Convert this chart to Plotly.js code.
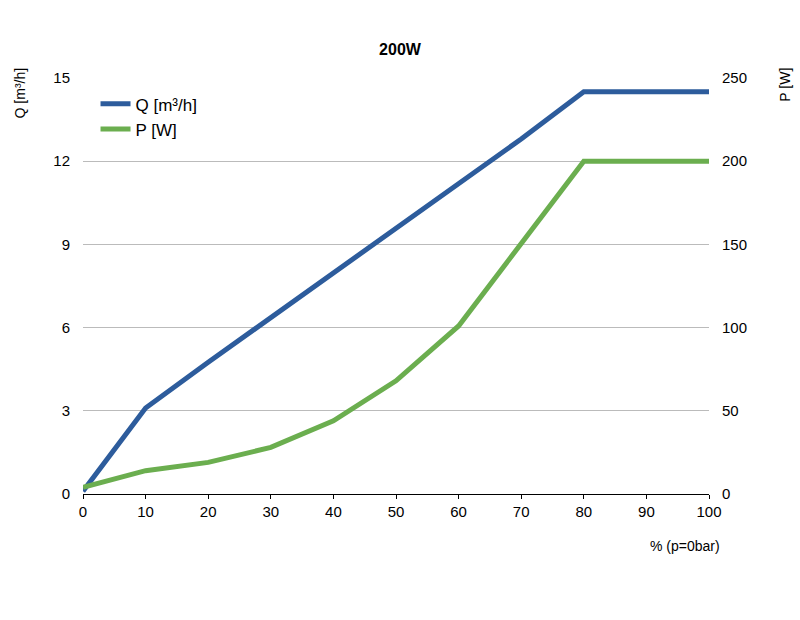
<!DOCTYPE html>
<html>
<head>
<meta charset="utf-8">
<script src="https://cdn.plot.ly/plotly-3.0.1.min.js"></script>
<style>body{margin:0;background:#fff}</style>
</head>
<body>
<div id="chart" style="width:800px;height:620px"></div>
<script>
var percent = [0, 10, 20, 30, 40, 50, 60, 70, 80, 90, 100];
var flowQ = [0.1, 3.1, 4.75, 6.35, 8.0, 9.6, 11.15, 12.8, 14.5, 14.5, 14.5];
var powerP = [4, 14, 19, 28, 44, 68, 101, 151, 200, 200, 200];

var traceQ = {
    x: percent, y: flowQ, name: 'Q [m³/h]', mode: 'lines', type: 'scatter',
    line: {color: '#2d5c9c', width: 5}
};
var traceP = {
    x: percent, y: powerP, name: 'P [W]', mode: 'lines', type: 'scatter', yaxis: 'y2',
    line: {color: '#6bae4f', width: 5}
};
var font = {family: 'Liberation Sans, Arial, sans-serif', size: 15, color: '#000'};
var layout = {
    font: font,
    margin: {l: 83, r: 91, t: 78, b: 126},
    title: {text: '<b>200W</b>', x: 0.5, xanchor: 'center', y: 0.93, font: {size: 16}},
    showlegend: true,
    legend: {x: 0.02, y: 0.98, xanchor: 'left', yanchor: 'top', font: {size: 17}, bgcolor: 'rgba(0,0,0,0)'},
    xaxis: {range: [0, 100], tickvals: percent, showgrid: false, zeroline: false,
            showline: true, linecolor: '#000', ticks: 'outside', ticklen: 4, tickcolor: '#000'},
    yaxis: {range: [0, 15], tickvals: [0, 3, 6, 9, 12, 15], showgrid: true, gridcolor: '#bbb',
            zeroline: false, ticks: '', ticklabelstandoff: 12},
    yaxis2: {range: [0, 250], tickvals: [0, 50, 100, 150, 200, 250], overlaying: 'y', side: 'right',
             showgrid: false, zeroline: false, ticklabelstandoff: 12},
    annotations: [
        {text: 'Q [m³/h]', xref: 'paper', yref: 'paper', x: -0.1, y: 1.03, xanchor: 'center', yanchor: 'top',
         textangle: -90, showarrow: false, font: {size: 14}},
        {text: 'P [W]', xref: 'paper', yref: 'paper', x: 1.12, y: 1.03, xanchor: 'center', yanchor: 'top',
         textangle: -90, showarrow: false, font: {size: 14}},
        {text: '% (p=0bar)', xref: 'paper', yref: 'paper', x: 1.02, y: -0.1, xanchor: 'right', yanchor: 'top',
         showarrow: false, font: {size: 14}}
    ],
    plot_bgcolor: '#fff', paper_bgcolor: '#fff'
};
Plotly.newPlot('chart', [traceQ, traceP], layout, {displayModeBar: false});
</script>
</body>
</html>
